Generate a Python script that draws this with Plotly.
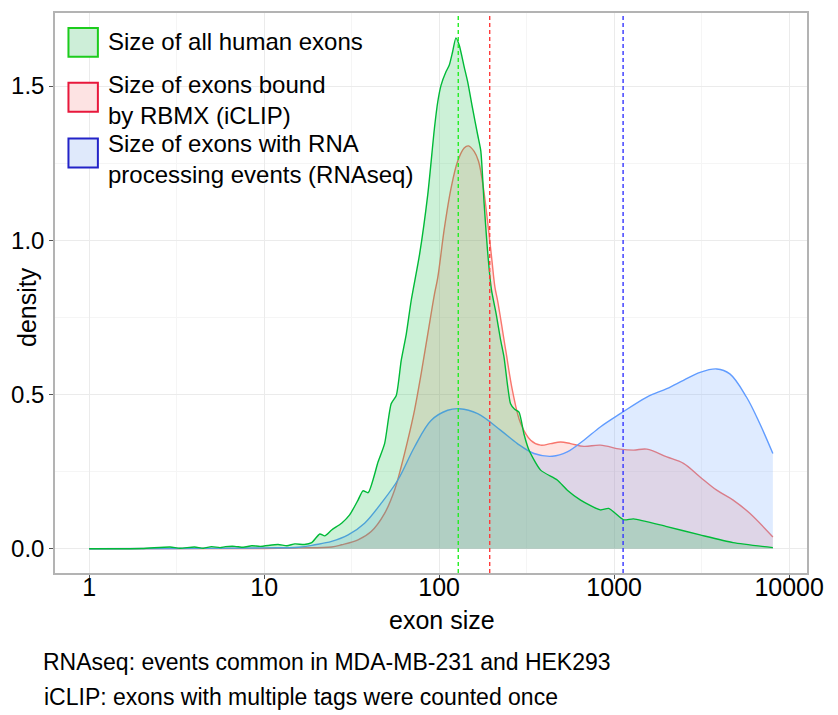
import plotly.graph_objects as go

# ---------------- data ----------------
all_exons_size = [1, 2.0, 2.9, 3.3, 4.0, 4.5, 5.0, 5.6, 6.0, 6.8, 7.6, 8.5, 9.5, 12.0, 13.5, 15.0,
                  17.0, 18.7, 20.8, 22.2, 24.3, 27.7, 30.8, 34.4, 36.7, 39.3, 44.8, 48.8, 53.2,
                  56.9, 60.7, 64.9, 69.2, 77.3, 86.1, 94.0, 98.2, 102.6, 109.4, 114.3, 119.4,
                  124.7, 130.3, 139.0, 145.5, 155.2, 166.0, 173.0, 180.7, 188.8, 199.0, 212.0,
                  224.0, 235.0, 246.0, 256.0, 270.0, 286.0, 305.0, 326.0, 380.0, 473.0, 540.0,
                  643.0, 834.0, 931.0, 1132.0, 1291.0, 2000.0, 3097.0, 4786.0, 8072.0]
all_exons_density = [0.0, 0.001, 0.006, 0.002, 0.006, 0.002, 0.007, 0.004, 0.007, 0.008, 0.005,
                     0.010, 0.008, 0.014, 0.010, 0.016, 0.014, 0.020, 0.048, 0.042, 0.061, 0.083,
                     0.110, 0.158, 0.188, 0.182, 0.282, 0.341, 0.470, 0.497, 0.610, 0.696, 0.804,
                     0.954, 1.148, 1.363, 1.449, 1.503, 1.546, 1.568, 1.611, 1.656, 1.632, 1.562,
                     1.514, 1.428, 1.342, 1.290, 1.120, 0.970, 0.840, 0.760, 0.680, 0.620, 0.530,
                     0.470, 0.452, 0.443, 0.373, 0.320, 0.255, 0.223, 0.190, 0.158, 0.126, 0.131,
                     0.094, 0.097, 0.072, 0.045, 0.020, 0.004]

rbmx_size = [1, 10, 15.8, 24.3, 27.7, 34.4, 40.9, 48.8, 55.6, 60.7, 66.2, 72.3, 78.9, 86.1, 94.0,
             98.2, 107.2, 117.0, 127.6, 139.0, 147.2, 158.5, 167.9, 179.1, 191.0, 199.5, 208.4,
             215.8, 240.4, 262.4, 292.4, 333.4, 380.2, 433.5, 494.3, 563.6, 671.4, 833.7,
             1084.0, 1291.0, 1538.0, 2000.0, 2489.0, 3097.0, 3855.0, 4786.0, 5957.0, 8072.0]
rbmx_density = [0.0, 0.001, 0.003, 0.006, 0.013, 0.029, 0.056, 0.115, 0.190, 0.266, 0.352,
                0.449, 0.567, 0.696, 0.825, 0.879, 1.040, 1.169, 1.256, 1.299, 1.306, 1.288,
                1.256, 1.169, 1.040, 0.944, 0.847, 0.804, 0.642, 0.513, 0.406, 0.352, 0.336,
                0.341, 0.346, 0.341, 0.332, 0.336, 0.323, 0.320, 0.323, 0.298, 0.277, 0.233,
                0.190, 0.158, 0.115, 0.038]

rnaseq_size = [1, 3.16, 10, 15.7, 19.5, 24.3, 30.2, 37.5, 46.7, 58.1, 72.3, 89.9, 111.9, 130.3,
               166.0, 224.9, 280.0, 348.3, 443.6, 539.5, 671.4, 833.7, 1084.0, 1538.0, 2000.0,
               2489.0, 3097.0, 3855.0, 4581.0, 5702.0, 6792.0, 8072.0]
rnaseq_density = [0.0, 0.001, 0.003, 0.005, 0.013, 0.024, 0.045, 0.083, 0.148, 0.223, 0.330,
                  0.416, 0.449, 0.454, 0.438, 0.384, 0.341, 0.309, 0.300, 0.314, 0.352, 0.395,
                  0.438, 0.492, 0.519, 0.546, 0.572, 0.583, 0.567, 0.492, 0.406, 0.309]

median_sizes = {"all": 128.6, "rbmx": 194.5, "rnaseq": 1125.0}

x_tick_vals = [1, 10, 100, 1000, 10000]
x_tick_text = ["1", "10", "100", "1000", "10000"]
y_tick_vals = [0.0, 0.5, 1.0, 1.5]
y_tick_text = ["0.0", "0.5", "1.0", "1.5"]

legend_labels = ["Size of all human exons",
                 "Size of exons bound<br>by RBMX (iCLIP)",
                 "Size of exons with RNA<br>processing events (RNAseq)"]
caption_lines = ["RNAseq: events common in MDA-MB-231 and HEK293",
                 "iCLIP: exons with multiple tags were counted once"]

# ---------------- layout geometry ----------------
W, H = 838, 715
ML, MR, MT, MB = 53, 31, 11, 142
PW, PH = W - ML - MR, H - MT - MB


def px_x(px):
    return (px - ML) / PW


def px_y(py):
    return (H - MB - py) / PH


FONT = "Liberation Sans, Arial, sans-serif"

fig = go.Figure()

series = [
    (rbmx_size, rbmx_density, "#F8766D", "rgba(248,118,109,0.2)", 1.0),
    (rnaseq_size, rnaseq_density, "#619CFF", "rgba(97,156,255,0.2)", 1.0),
    (all_exons_size, all_exons_density, "#00BA38", "rgba(0,186,56,0.2)", 0.6),
]
for xs, ys, lc, fc, sm in series:
    fig.add_trace(go.Scatter(x=xs, y=ys, mode="lines", fill="tozeroy", fillcolor=fc,
                             line=dict(color=lc, width=1.4, shape="spline", smoothing=sm),
                             showlegend=False, hoverinfo="skip"))

vline_colors = {"all": "#22EE22", "rbmx": "#FF3B3B", "rnaseq": "#3535FF"}
for k, v in median_sizes.items():
    fig.add_shape(type="line", xref="x", yref="paper", x0=v, x1=v, y0=0, y1=1,
                  line=dict(color=vline_colors[k], width=1.4, dash="4px,3px"))

# manual legend (ggplot style keys)
key_fill = ["#CDEED8", "#FDE3E3", "#DFE9FB"]
key_border = ["#1CCC1C", "#E8183C", "#2323C8"]
key_tops = [26, 81, 137]
text_centers = [40, 98, 158]
for i in range(3):
    fig.add_shape(type="rect", xref="paper", yref="paper",
                  x0=px_x(66.5), x1=px_x(96), y0=px_y(key_tops[i] + 29), y1=px_y(key_tops[i]),
                  fillcolor=key_fill[i], line=dict(color=key_border[i], width=2))
    fig.add_annotation(text=legend_labels[i], xref="paper", yref="paper",
                       x=px_x(104), y=px_y(text_centers[i]), xanchor="left", yanchor="middle",
                       align="left", showarrow=False,
                       font=dict(family=FONT, size=24, color="black"))

# axis titles and caption
fig.add_annotation(text="exon size", xref="paper", yref="paper", x=px_x(441), y=px_y(620),
                   xanchor="center", yanchor="middle", showarrow=False,
                   font=dict(family=FONT, size=25, color="black"))
fig.add_annotation(text="density", xref="paper", yref="paper", x=px_x(25), y=px_y(306),
                   xanchor="center", yanchor="middle", textangle=-90, showarrow=False,
                   font=dict(family=FONT, size=25, color="black"))
for i, line in enumerate(caption_lines):
    fig.add_annotation(text=line, xref="paper", yref="paper", x=px_x(39 + i * 1),
                       y=px_y(662 + i * 35), xanchor="left", yanchor="middle", showarrow=False,
                       font=dict(family=FONT, size=23, color="black"))

fig.update_layout(
    width=W, height=H, margin=dict(l=ML, r=MR, t=MT, b=MB),
    paper_bgcolor="white", plot_bgcolor="white",
    font=dict(family=FONT, color="black"),
    showlegend=False,
    xaxis=dict(type="log", range=[-0.195, 4.102], tickvals=x_tick_vals, ticktext=x_tick_text,
               tickfont=dict(size=25, color="black"), ticks="outside", ticklen=4,
               ticklabelstandoff=-13,
               tickcolor="#555555", showgrid=True, gridcolor="#EBEBEB", gridwidth=1.2,
               showline=True, mirror=True, linecolor="#B3B3B3", linewidth=1.5,
               zeroline=False,
               minor=dict(tickmode="array", tickvals=[3.1623, 31.623, 316.23, 3162.3],
                          showgrid=True, gridcolor="#F5F5F5", gridwidth=1, ticks="")),
    yaxis=dict(range=[-0.0784, 1.7366], tickvals=y_tick_vals, ticktext=y_tick_text,
               tickfont=dict(size=24, color="black"), ticks="outside", ticklen=4,
               tickcolor="#555555", showgrid=True, gridcolor="#EBEBEB", gridwidth=1.2,
               showline=True, mirror=True, linecolor="#B3B3B3", linewidth=1.5,
               zeroline=False,
               minor=dict(tickmode="array", tickvals=[0.25, 0.75, 1.25],
                          showgrid=True, gridcolor="#F5F5F5", gridwidth=1, ticks="")),
)

fig.write_html("out.html")
